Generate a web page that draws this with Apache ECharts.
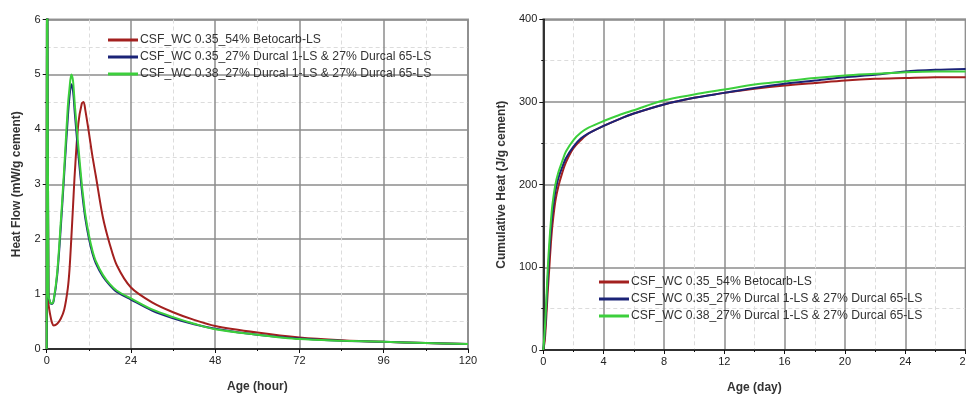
<!DOCTYPE html>
<html>
<head>
<meta charset="utf-8">
<script src="https://cdn.jsdelivr.net/npm/echarts@6/dist/echarts.min.js"></script>
<style>
  html, body { margin: 0; padding: 0; background: #fff; }
  #chart { width: 966px; height: 395px; }
</style>
</head>
<body>
<div id="chart"></div>
<script>
  const seriesNames = [
    "CSF_WC 0.35_54% Betocarb-LS",
    "CSF_WC 0.35_27% Durcal 1-LS & 27% Durcal 65-LS",
    "CSF_WC 0.38_27% Durcal 1-LS & 27% Durcal 65-LS"
  ];
  const seriesColors = ["#a3201f", "#1b2377", "#3ccf3c"];

  // heat flow (mW/g cement) vs age in hours
  const hours = [0, 0.1, 0.5, 1, 1.5, 2, 3, 4, 5, 6, 6.5, 7, 7.5, 8, 9, 10, 10.5, 11, 12, 13, 14, 16, 18, 20, 24, 30, 36, 42, 48, 60, 72, 84, 96, 108, 120];
  const flowBetocarb = [0, 8, 0.85, 0.62, 0.48, 0.43, 0.46, 0.55, 0.72, 1.1, 1.45, 2.0, 2.6, 3.2, 4.1, 4.47, 4.5, 4.35, 3.95, 3.52, 3.15, 2.4, 1.9, 1.52, 1.12, 0.85, 0.67, 0.53, 0.42, 0.3, 0.21, 0.16, 0.13, 0.11, 0.09];
  const flowDurcal35 = [0, 9, 1.0, 0.84, 0.82, 0.88, 1.35, 2.2, 3.2, 4.2, 4.6, 4.82, 4.7, 4.3, 3.55, 2.9, 2.62, 2.38, 2.02, 1.75, 1.56, 1.32, 1.16, 1.04, 0.9, 0.7, 0.56, 0.45, 0.37, 0.26, 0.19, 0.15, 0.13, 0.11, 0.09];
  const flowDurcal38 = [0, 9, 1.0, 0.85, 0.83, 0.9, 1.4, 2.3, 3.3, 4.4, 4.75, 5.0, 4.88, 4.45, 3.7, 3.0, 2.72, 2.45, 2.08, 1.8, 1.6, 1.35, 1.18, 1.06, 0.92, 0.72, 0.58, 0.46, 0.36, 0.26, 0.18, 0.15, 0.13, 0.11, 0.09];

  // cumulative heat (J/g cement) vs age in days
  const days = [0, 0.1, 0.2, 0.3, 0.4, 0.5, 0.6, 0.8, 1, 1.25, 1.5, 2, 2.5, 3, 4, 5, 6, 8, 10, 12, 14, 16, 18, 20, 22, 24, 26, 28];
  const heatBetocarb = [0, 12, 40, 72, 100, 128, 150, 180, 198, 214, 227, 244, 254, 262, 271, 279, 286, 297, 305, 311, 316, 320, 323, 326, 328, 329, 330, 330];
  const heatDurcal35 = [0, 20, 52, 88, 118, 145, 165, 192, 208, 221, 232, 246, 256, 262, 271, 279, 286, 297, 305, 311, 317, 322, 326, 330, 333, 337, 339, 340];
  const heatDurcal38 = [0, 25, 60, 100, 130, 155, 175, 200, 215, 228, 240, 254, 263, 269, 277, 284, 290, 302, 309, 315, 321, 325, 329, 332, 334, 336, 337, 337];

  const flowValues = [flowBetocarb, flowDurcal35, flowDurcal38];
  const heatValues = [heatBetocarb, heatDurcal35, heatDurcal38];

  const labelFont = { fontFamily: "Liberation Sans, Arial, sans-serif", fontSize: 11, color: "#222" };

  function valueAxis(extra) {
    return Object.assign({
      type: "value",
      nameLocation: "middle",
      nameTextStyle: Object.assign({}, labelFont, { fontSize: 12, fontWeight: "bold", color: "#333" }),
      axisLine: { show: true, onZero: false, lineStyle: { color: "#111", width: 1.5 } },
      axisTick: { show: true, inside: false, length: 4, lineStyle: { color: "#111" } },
      minorTick: { show: true, splitNumber: 2, length: 2, lineStyle: { color: "#111" } },
      axisLabel: Object.assign({}, labelFont, { margin: 6 }),
      splitLine: { show: true, lineStyle: { color: "#8c8c8c", width: 1.5 } },
      minorSplitLine: { show: true, lineStyle: { color: "#dcdcdc", width: 1, type: [4, 3] } }
    }, extra);
  }

  function legendFor(left, top) {
    return {
      left: left,
      top: top,
      orient: "vertical",
      icon: "rect",
      itemWidth: 30,
      itemHeight: 3,
      itemGap: 5,
      data: seriesNames,
      selectedMode: false,
      textStyle: Object.assign({}, labelFont, { fontSize: 12.2, color: "#333", padding: [0, 0, 0, -3] })
    };
  }

  const chart = echarts.init(document.getElementById("chart"), null, { renderer: "canvas" });

  const series = [];
  seriesNames.forEach((name, i) => {
    series.push({
      name: name,
      type: "line",
      xAxisIndex: 0,
      yAxisIndex: 0,
      showSymbol: false,
      smooth: 0.3,
      clip: true,
      color: seriesColors[i],
      lineStyle: { width: 2 },
      data: hours.map((h, k) => [h, flowValues[i][k]])
    });
  });
  seriesNames.forEach((name, i) => {
    series.push({
      name: name,
      type: "line",
      xAxisIndex: 1,
      yAxisIndex: 1,
      showSymbol: false,
      smooth: 0.3,
      clip: true,
      color: seriesColors[i],
      lineStyle: { width: 2 },
      data: days.map((d, k) => [d, heatValues[i][k]])
    });
  });

  chart.setOption({
    animation: false,
    backgroundColor: "#fff",
    legend: [legendFor(103, 29), legendFor(594, 271)],
    grid: [
      { left: 46.7, top: 19.5, width: 421.3, height: 329.5, show: true, borderColor: "#9a9a9a", borderWidth: 2, outerBoundsMode: "none", containLabel: false },
      { left: 543.3, top: 19.3, width: 422.3, height: 330.7, show: true, borderColor: "#9a9a9a", borderWidth: 2, outerBoundsMode: "none", containLabel: false }
    ],
    xAxis: [
      valueAxis({ gridIndex: 0, min: 0, max: 120, interval: 24, name: "Age (hour)", nameGap: 32 }),
      valueAxis({ gridIndex: 1, min: 0, max: 28, interval: 4, name: "Age (day)", nameGap: 32 })
    ],
    yAxis: [
      valueAxis({ gridIndex: 0, min: 0, max: 6, interval: 1, name: "Heat Flow (mW/g cement)", nameGap: 24 }),
      valueAxis({ gridIndex: 1, min: 0, max: 400, interval: 100, name: "Cumulative Heat (J/g cement)", nameGap: 36 })
    ],
    series: series
  });
</script>
</body>
</html>
